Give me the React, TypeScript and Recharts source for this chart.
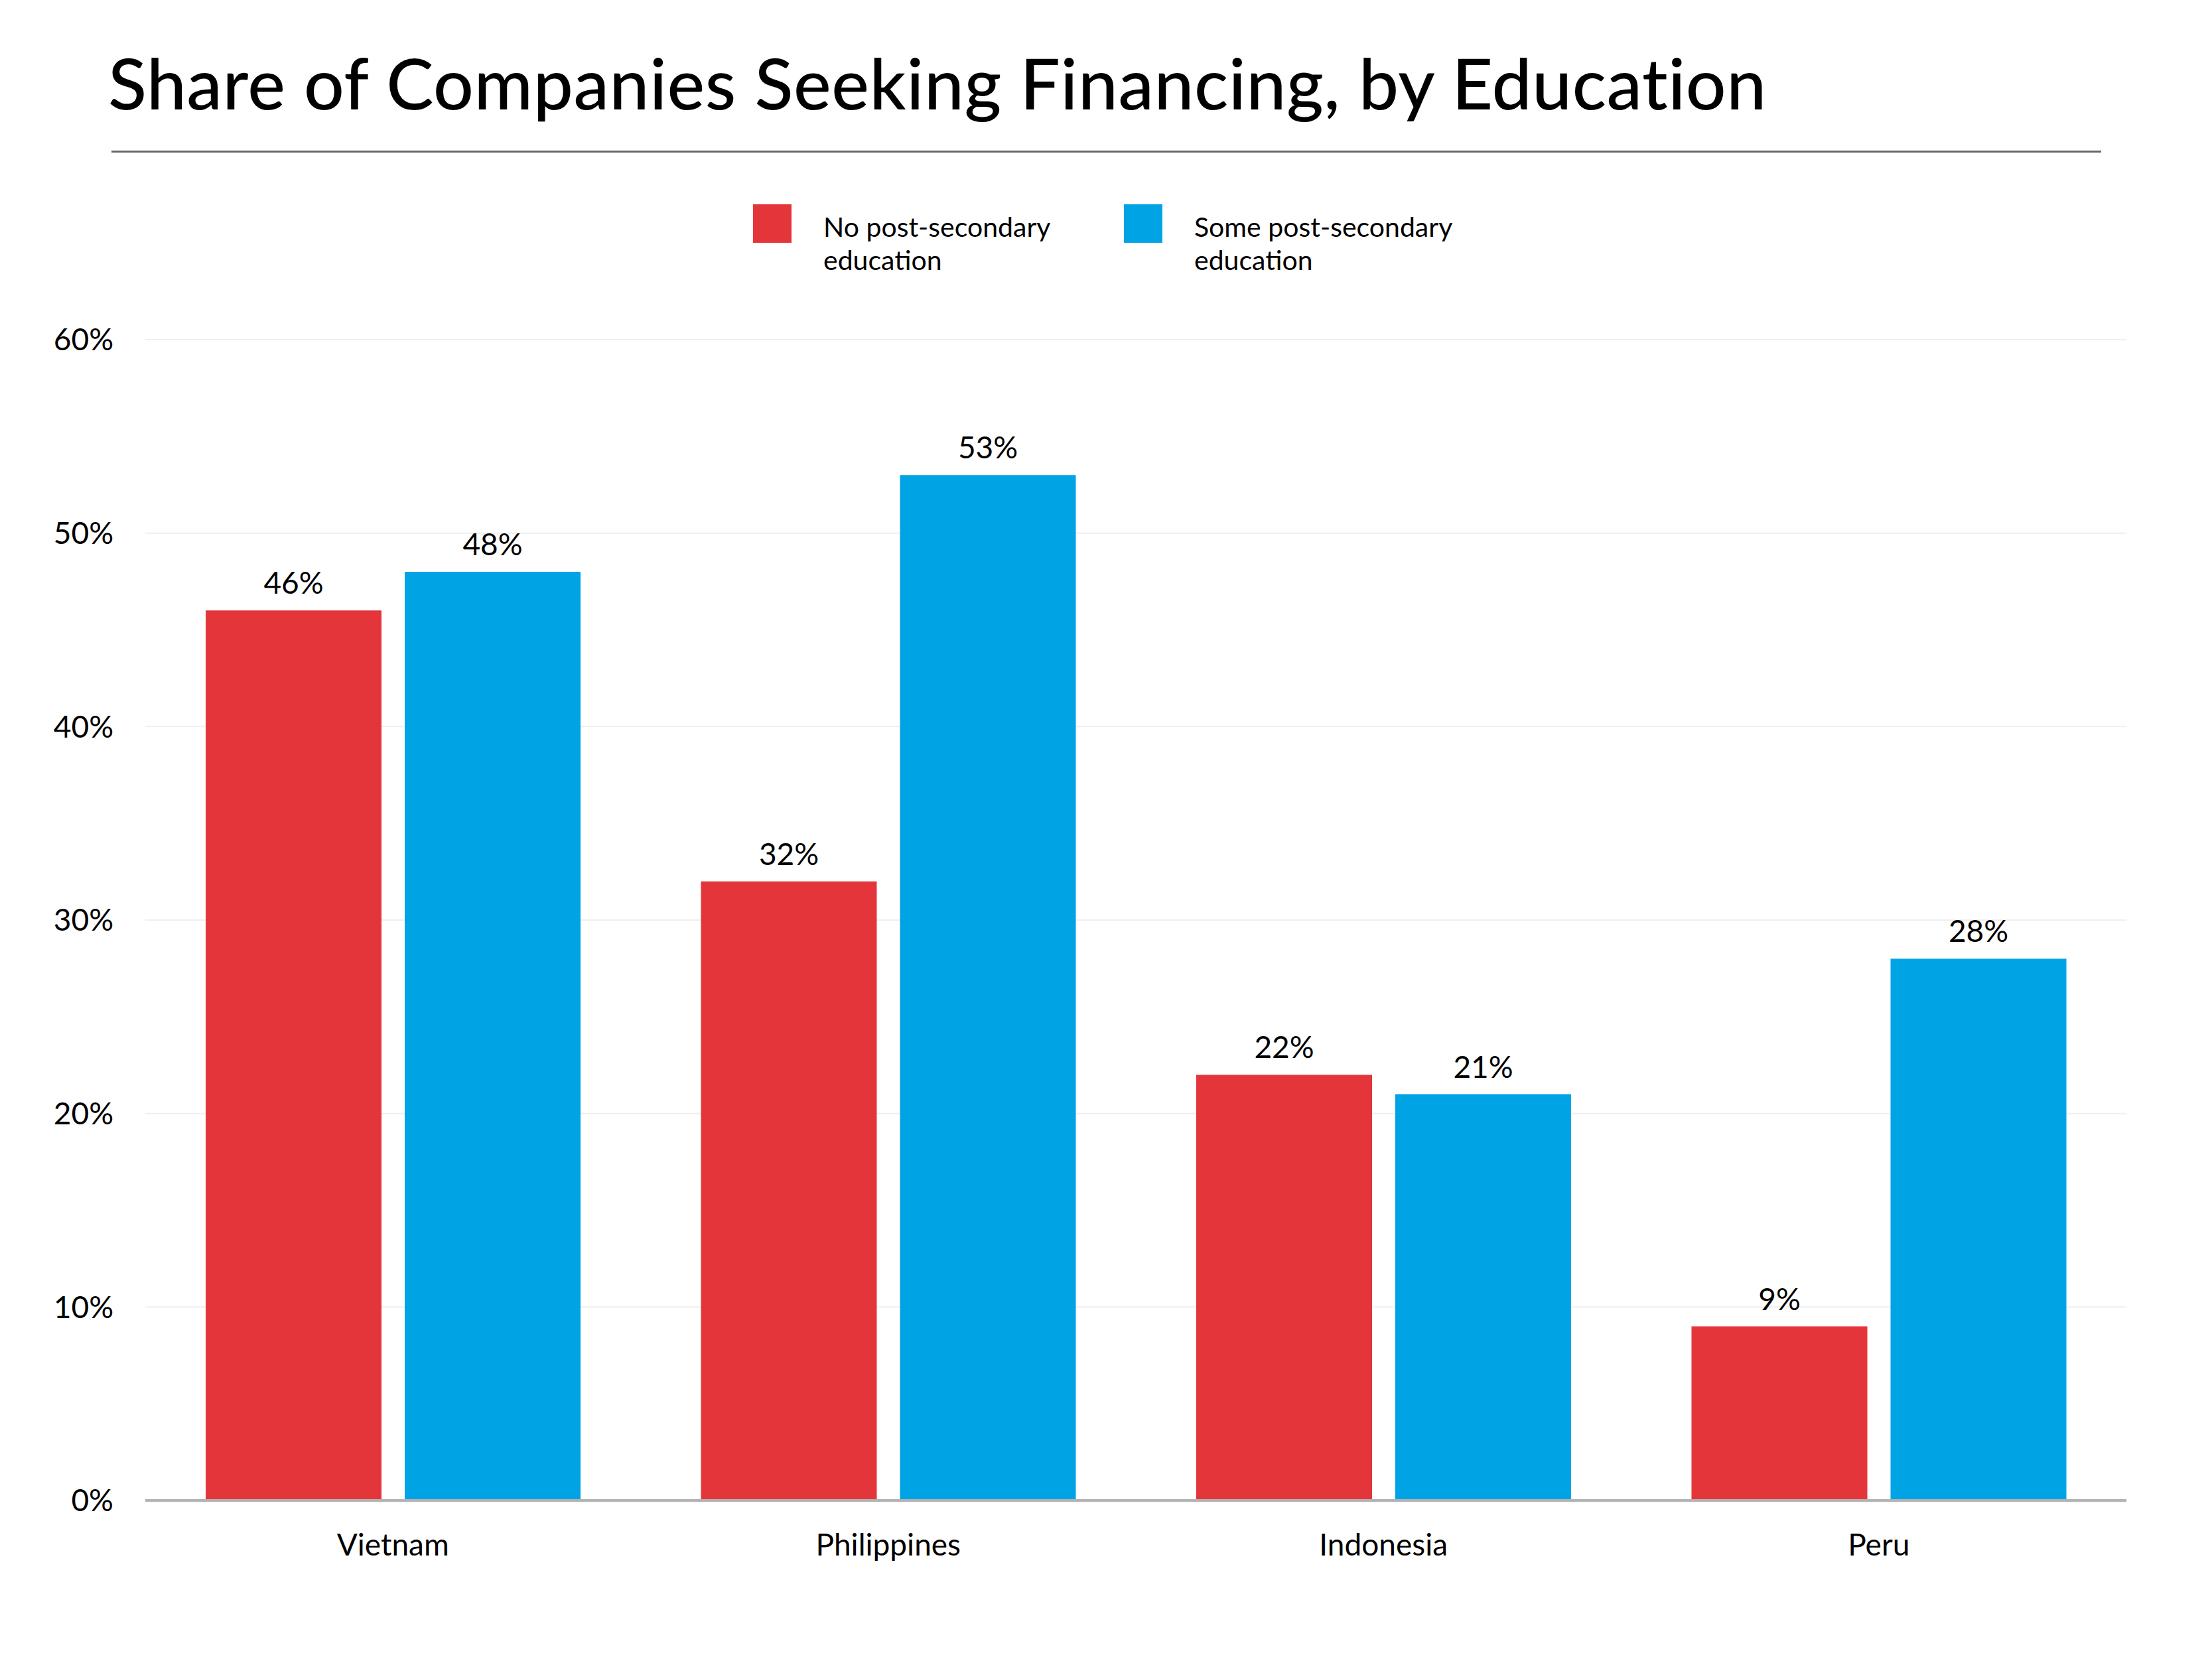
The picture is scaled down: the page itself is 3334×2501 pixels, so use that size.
import React from 'react';
import { BarChart, Bar, XAxis, YAxis, CartesianGrid, LabelList, Legend } from 'recharts';

const categories = ['Vietnam', 'Philippines', 'Indonesia', 'Peru'];
const noPostSecondary = [46, 32, 22, 9];
const somePostSecondary = [48, 53, 21, 28];
const yTicks = [0, 10, 20, 30, 40, 50, 60];
const seriesNames = ['No post-secondary education', 'Some post-secondary education'];
const title = 'Share of Companies Seeking Financing, by Education';

const RED = '#E4363A';
const BLUE = '#00A4E4';
const FONT = 'Lato, "Open Sans", sans-serif';

const data = categories.map((c, i) => ({
  country: c,
  none: noPostSecondary[i],
  some: somePostSecondary[i],
}));

const legendLines: Record<string, string[]> = {
  [seriesNames[0]]: ['No post-secondary', 'education'],
  [seriesNames[1]]: ['Some post-secondary', 'education'],
};

const LegendContent = (props: any) => {
  const payload = props.payload || [];
  return (
    <div style={{ display: 'flex', fontFamily: FONT }}>
      {payload.map((p: any, i: number) => (
        <div key={i} style={{ display: 'flex', width: i === 0 ? 559 : 500 }}>
          <div style={{ width: 58, height: 58, background: p.color, flex: '0 0 58px' }} />
          <div
            style={{
              marginLeft: 48,
              marginTop: 8.5,
              fontSize: 41,
              lineHeight: '50px',
              color: '#000',
              whiteSpace: 'nowrap',
            }}
          >
            {(legendLines[p.value] || [p.value]).map((l, j) => (
              <div key={j}>{l}</div>
            ))}
          </div>
        </div>
      ))}
    </div>
  );
};

export default function App() {
  return (
    <div
      style={{
        position: 'fixed',
        left: 0,
        top: 0,
        width: 3334,
        height: 2501,
        background: '#fff',
        fontFamily: FONT,
        overflow: 'hidden',
      }}
    >
      <div
        style={{
          position: 'absolute',
          left: 163,
          top: 70,
          fontSize: 107,
          lineHeight: '107px',
          fontWeight: 500,
          letterSpacing: 0.6,
          color: '#000',
          whiteSpace: 'nowrap',
        }}
      >
        {title}
      </div>
      <div
        style={{
          position: 'absolute',
          left: 168,
          top: 227,
          width: 2999,
          height: 3,
          background: '#666',
        }}
      />
      <div style={{ position: 'absolute', left: 0, top: 0 }}>
        <BarChart
          width={3334}
          height={2501}
          data={data}
          margin={{ top: 512, right: 129, bottom: 139, left: 0 }}
          barGap={35}
          barCategoryGap={91}
        >
          <CartesianGrid vertical={false} stroke="#efefef" strokeWidth={2} />
          <XAxis
            dataKey="country"
            height={100}
            tickLine={false}
            tickSize={0}
            tickMargin={50}
            axisLine={{ stroke: '#b3b3b3', strokeWidth: 4 }}
            tick={{ fontSize: 46, fill: '#000', fontFamily: FONT }}
          />
          <YAxis
            width={219}
            domain={[0, 60]}
            ticks={yTicks}
            interval={0}
            tickLine={false}
            tickSize={0}
            tickMargin={48}
            axisLine={false}
            tickFormatter={(v: number) => `${v}%`}
            tick={{ fontSize: 46, fill: '#000', fontFamily: FONT }}
          />
          <Legend
            layout="horizontal"
            verticalAlign="middle"
            align="center"
            content={<LegendContent />}
            wrapperStyle={{ top: 308, left: 1135, width: 1200, height: 120 }}
          />
          <Bar dataKey="none" name={seriesNames[0]} fill={RED} isAnimationActive={false}>
            <LabelList
              dataKey="none"
              position="top"
              offset={25}
              formatter={(v: any) => `${v}%`}
              style={{ fontSize: 46, fill: '#000', fontFamily: FONT }}
            />
          </Bar>
          <Bar dataKey="some" name={seriesNames[1]} fill={BLUE} isAnimationActive={false}>
            <LabelList
              dataKey="some"
              position="top"
              offset={25}
              formatter={(v: any) => `${v}%`}
              style={{ fontSize: 46, fill: '#000', fontFamily: FONT }}
            />
          </Bar>
        </BarChart>
      </div>
    </div>
  );
}
